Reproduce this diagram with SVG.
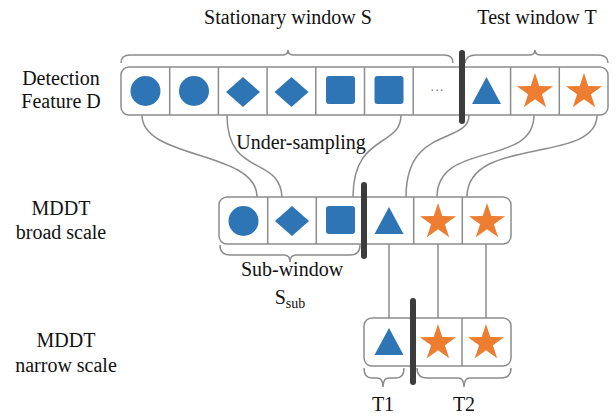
<svg xmlns="http://www.w3.org/2000/svg" xmlns:xlink="http://www.w3.org/1999/xlink" width="616" height="416" viewBox="0 0 616 416">
<style>
.lbl{font-family:"Liberation Serif","Times New Roman",serif;font-size:20px;fill:#111;text-anchor:middle}
.box{fill:#fff;stroke:#8c8c8c;stroke-width:1.5}
.div{stroke:#8c8c8c;stroke-width:1.5}
.con{fill:none;stroke:#8c8c8c;stroke-width:1.5}
.brace{fill:none;stroke:#8c8c8c;stroke-width:1.5}
.bar{stroke:#3c3c3c;stroke-width:6;stroke-linecap:round}
.blue{fill:#2E75B6}
.orange{fill:#ED7D31}
</style>
<defs>
<circle id="circ" cx="0" cy="0" r="15" class="blue"/>
<polygon id="dia" points="0,-15 17,0 0,15 -17,0" class="blue"/>
<rect id="sq" x="-14.5" y="-14" width="29" height="28" rx="3" class="blue"/>
<polygon id="tri" points="0,-14 14.5,13 -14.5,13" class="blue"/>
<polygon id="star" points="0,-19 4.27,-5.88 18.07,-5.87 6.91,2.25 11.17,15.37 0,7.26 -11.17,15.37 -6.91,2.25 -18.07,-5.87 -4.27,-5.88" class="orange"/>
</defs>

<g id="labels">
<text class="lbl" x="288" y="24" font-size="19">Stationary window S</text>
<text class="lbl" x="537" y="24">Test window T</text>
<text class="lbl" x="61" y="85">Detection</text>
<text class="lbl" x="61" y="108">Feature D</text>
<text class="lbl" x="61" y="215">MDDT</text>
<text class="lbl" x="61" y="239">broad scale</text>
<text class="lbl" x="66" y="347">MDDT</text>
<text class="lbl" x="66" y="372">narrow scale</text>
<text class="lbl" x="301" y="149">Under-sampling</text>
<text class="lbl" x="292" y="276">Sub-window</text>
<text class="lbl" x="290" y="304">S<tspan font-size="14" dy="4">sub</tspan></text>
<text class="lbl" x="383" y="411">T1</text>
<text class="lbl" x="464" y="411">T2</text>
</g>

<g id="braces">
<path class="brace" d="M121,63 Q121,55 130,55 L282,55 Q288,55 288,50 Q288,55 294,55 L444,55 Q453,55 453,63"/>
<path class="brace" d="M465,63 Q466,55 476,55 L529,55 Q535,55 535,50 Q535,55 541,55 L598,55 Q608,55 608,63"/>
<path class="brace" d="M220,245 Q220,255 230,255 L284,255 Q290,255 290,262 Q290,255 296,255 L350,255 Q360,255 360,245"/>
<path class="brace" d="M364,368 Q364,378 372,378 L377,378 Q383,378 383,387 Q383,378 389,378 L396,378 Q404,378 404,368"/>
<path class="brace" d="M417,368 Q417,378 427,378 L458,378 Q464,378 464,387 Q464,378 470,378 L501,378 Q511,378 511,368"/>
</g>

<g id="connectors">
<path class="con" d="M142,115 C142,160 257,150 257,197"/>
<path class="con" d="M227,115 C227,178 280,155 282,197"/>
<path class="con" d="M401,115 C401,148 353,133 353,197"/>
<path class="con" d="M469,115 C469,145 406,125 406,197"/>
<path class="con" d="M534,115 C534,168 437,140 437,197"/>
<path class="con" d="M597,115 C597,165 467,135 467,197"/>
<line class="con" x1="389" y1="244" x2="389" y2="318"/>
<line class="con" x1="438" y1="244" x2="438" y2="318"/>
<line class="con" x1="486" y1="244" x2="486" y2="318"/>
</g>

<g id="row-detection">
<rect class="box" x="121" y="67" width="487" height="48" rx="8"/>
<line class="div" x1="169.7" y1="67" x2="169.7" y2="115"/>
<line class="div" x1="218.4" y1="67" x2="218.4" y2="115"/>
<line class="div" x1="267.1" y1="67" x2="267.1" y2="115"/>
<line class="div" x1="315.8" y1="67" x2="315.8" y2="115"/>
<line class="div" x1="364.5" y1="67" x2="364.5" y2="115"/>
<line class="div" x1="413.2" y1="67" x2="413.2" y2="115"/>
<line class="div" x1="510.6" y1="67" x2="510.6" y2="115"/>
<line class="div" x1="559.3" y1="67" x2="559.3" y2="115"/>
<use href="#circ" x="145.5" y="91"/>
<use href="#circ" x="194" y="91"/>
<use href="#dia" x="243" y="92"/>
<use href="#dia" x="291.5" y="92"/>
<use href="#sq" x="340.5" y="90"/>
<use href="#sq" x="389" y="90"/>
<text x="437" y="95" font-family="Liberation Serif, serif" font-size="14" fill="#888" text-anchor="middle">···</text>
<use href="#tri" x="486.5" y="91"/>
<use href="#star" x="535" y="92"/>
<use href="#star" x="584" y="92"/>
<line class="bar" x1="462" y1="53" x2="462" y2="121"/>
</g>

<g id="row-broad">
<rect class="box" x="219" y="197" width="292" height="47" rx="8"/>
<line class="div" x1="267.7" y1="197" x2="267.7" y2="244"/>
<line class="div" x1="316.3" y1="197" x2="316.3" y2="244"/>
<line class="div" x1="413.7" y1="197" x2="413.7" y2="244"/>
<line class="div" x1="462.3" y1="197" x2="462.3" y2="244"/>
<use href="#circ" x="243.5" y="221"/>
<use href="#dia" x="292" y="221"/>
<use href="#sq" x="340.5" y="220"/>
<use href="#tri" x="389" y="221"/>
<use href="#star" x="438" y="222"/>
<use href="#star" x="487" y="222"/>
<line class="bar" x1="364" y1="185" x2="364" y2="256"/>
</g>

<g id="row-narrow">
<rect class="box" x="364" y="318" width="147" height="48" rx="8"/>
<line class="div" x1="462" y1="318" x2="462" y2="366"/>
<use href="#tri" x="389" y="342"/>
<use href="#star" x="438" y="343"/>
<use href="#star" x="486" y="343"/>
<line class="bar" x1="413" y1="301" x2="413" y2="382"/>
</g>
</svg>
